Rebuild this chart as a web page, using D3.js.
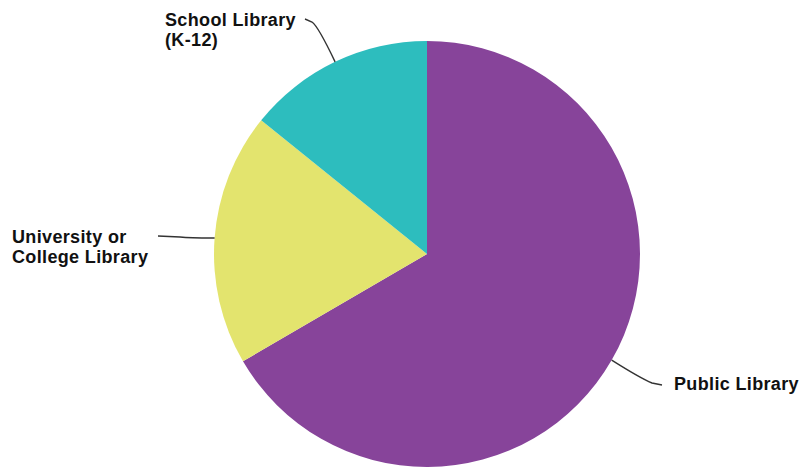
<!DOCTYPE html>
<html><head><meta charset="utf-8">
<script src="https://cdn.jsdelivr.net/npm/d3@7"></script>
<style>body{margin:0;background:#fff}svg{display:block}</style>
</head><body><svg id="c" width="809" height="467"></svg>
<script>
const categories = ["Public Library", "University or College Library", "School Library (K-12)"];
const labelLines = [["Public Library"], ["University or", "College Library"], ["School Library", "(K-12)"]];
const values = [66.6, 19.2, 14.2];
const colors = ["#87449a", "#e3e46e", "#2dbdbe"];

const svg = d3.select("#c");
const cx = 427, cy = 254, R = 213;
const g = svg.append("g").attr("transform", `translate(${cx},${cy})`);
const pie = d3.pie().sort(null).value(d => d)(values);
const arc = d3.arc().innerRadius(0).outerRadius(R);
g.selectAll("path.s").data(pie).join("path").attr("class","s")
  .attr("d", arc).attr("fill", (d,i) => colors[i]);

const layout = [
  {tx: 674, ty: 390, anchor: "start", elbow: [652, 383], end: [662, 385], ctrl: [640, 378]},
  {tx: 12, ty: 243, anchor: "start", elbow: [180, 237], end: [158, 236], ctrl: [190, 238]},
  {tx: 165, ty: 26, anchor: "start", elbow: [312, 22], end: [305, 19], ctrl: [318, 26]}
];
pie.forEach((d,i) => {
  const a = (d.startAngle + d.endAngle) / 2;
  const sx = cx + R * Math.sin(a), sy = cy - R * Math.cos(a);
  const L = layout[i];
  const p = d3.path();
  p.moveTo(sx, sy);
  p.quadraticCurveTo(L.ctrl[0], L.ctrl[1], L.elbow[0], L.elbow[1]);
  p.lineTo(L.end[0], L.end[1]);
  svg.append("path").attr("d", p.toString()).attr("fill","none")
    .attr("stroke","#333").attr("stroke-width",1.4);
  const t = svg.append("text").attr("x", L.tx).attr("y", L.ty)
    .attr("font-family","Liberation Sans, Arial, sans-serif").attr("font-weight","bold")
    .attr("font-size", 18).attr("letter-spacing", 0.35).attr("fill","#111")
    .attr("text-anchor", L.anchor);
  labelLines[i].forEach((ln,j) => t.append("tspan").attr("x", L.tx).attr("dy", j ? 20 : 0).text(ln));
});
</script></body></html>
